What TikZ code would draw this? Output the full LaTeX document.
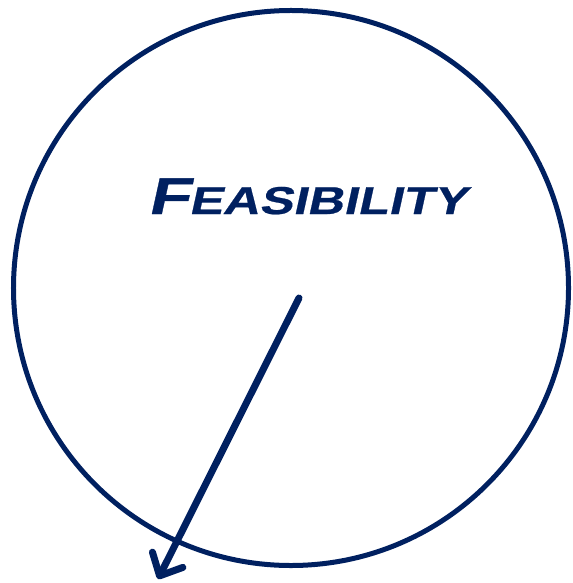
\documentclass[tikz,border=0pt]{standalone}
\usepackage{fontspec}
\usetikzlibrary{arrows.meta}
\newfontfamily\feasfont[FakeStretch=1.3,FakeSlant=0.22,FakeBold=0.6]{Liberation Sans Bold}
\definecolor{navy}{RGB}{0,32,96}
\tikzset{
  ring/.style={draw=navy, line width=5bp},
  pointer/.style={draw=navy, line width=7bp, line cap=round,
    -{Straight Barb[length=18bp,width=34bp,round]}},
  title/.style={text=navy, inner sep=0pt, anchor=base}
}
\begin{document}
\begin{tikzpicture}[x=1bp,y=-1bp]
\useasboundingbox (0,0) rectangle (573,583);
\node[ring, circle, minimum size=555bp, inner sep=0pt] (circ) at (291,288) {};
\node[title] (lbl) at (307,214) {\feasfont\fontsize{52}{52}\selectfont F\fontsize{39}{39}\selectfont EASIBILITY};
\coordinate (start) at (299,298);
\coordinate (tip) at (158,579);
\draw[pointer] (start) -- (tip);
\end{tikzpicture}
\end{document}
